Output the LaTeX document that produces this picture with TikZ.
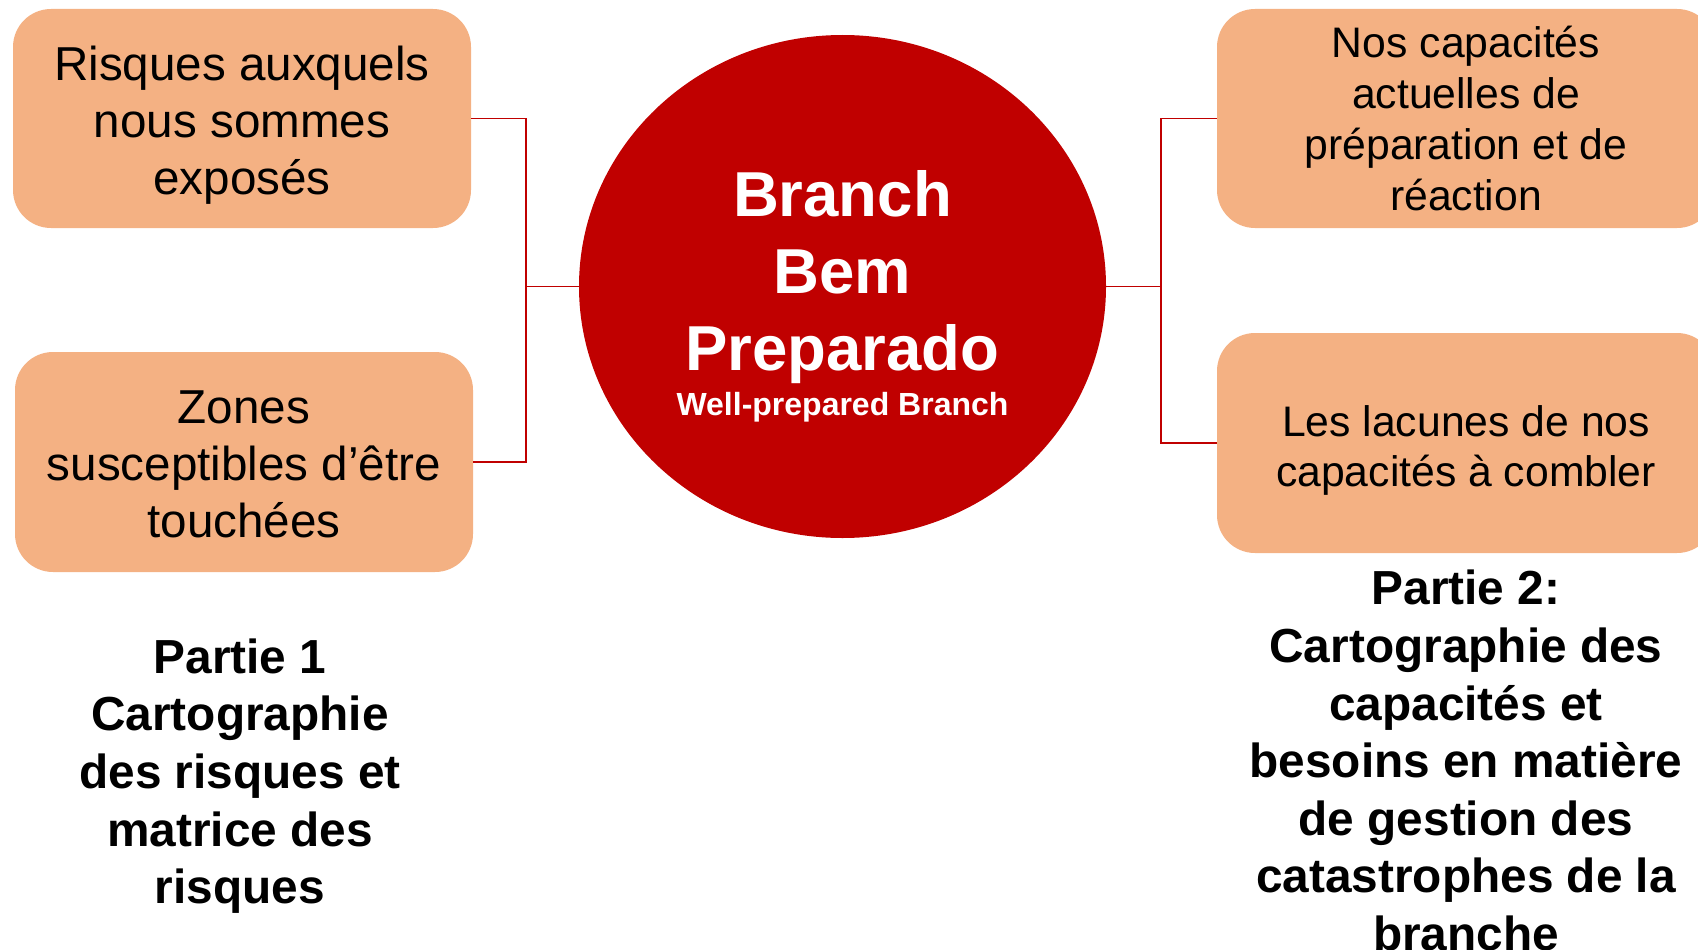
\documentclass[tikz,border=0pt]{standalone}
\usepackage{fontspec}
\setmainfont{Liberation Sans}
\usetikzlibrary{shapes.geometric}
\definecolor{peach}{HTML}{F4B183}
\definecolor{hubred}{HTML}{C00000}
\begin{document}
\begin{tikzpicture}[x=1pt,y=-1pt,
  pbox/.style={fill=peach, draw=none, rounded corners=38pt, inner sep=0pt},
  ltxt/.style={align=center, inner sep=0pt, anchor=north, font=\fontsize{47.6}{57}\selectfont},
  rtxt/.style={align=center, inner sep=0pt, anchor=north, font=\fontsize{42.7}{51}\selectfont},
  btxt/.style={align=center, inner sep=0pt, anchor=north, font=\bfseries\fontsize{47.8}{57.6}\selectfont},
  conn/.style={draw=hubred, line width=1.5pt},
  hub/.style={ellipse, fill=hubred, draw=none, minimum width=527pt, minimum height=503pt, inner sep=0pt}]
\useasboundingbox (0,0) rectangle (1698,950);
\clip (0,0) rectangle (1698,950);
% boxes
\node[pbox, minimum width=458pt, minimum height=219pt] (lt) at (242,118.5) {};
\node[pbox, minimum width=458pt, minimum height=220pt] (lb) at (244,462) {};
\node[pbox, minimum width=498pt, minimum height=219pt] (rt) at (1466,118.5) {};
\node[pbox, minimum width=498pt, minimum height=220pt] (rb) at (1466,443) {};
\node[hub] (c) at (842.5,286.5) {};
% texts
\node[ltxt] (ltt) at (242,46) {Risques auxquels\\nous sommes\\exposés};
\node[ltxt] (lbt) at (244,391) {Zones\\susceptibles d’être\\touchées};
\node[rtxt] (rtt) at (1466,26) {Nos capacités\\actuelles de\\préparation et de\\réaction};
\node[rtxt, font=\fontsize{42.7}{50}\selectfont] (rbt) at (1466,405) {Les lacunes de nos\\capacités à combler};
\node[align=center, inner sep=0pt, anchor=north, text=white, font=\bfseries\fontsize{63.5}{77}\selectfont] (ct) at (842.5,170.5) {Branch\\Bem\\Preparado};
\node[inner sep=0pt, anchor=base, text=white, font=\bfseries\fontsize{32}{38}\selectfont] (cs) at (842.5,415.5) {Well-prepared Branch};
\node[btxt] (p1) at (240,638.5) {Partie 1\\Cartographie\\des risques et\\matrice des\\risques};
\node[btxt] (p2) at (1466,570) {Partie 2:\\Cartographie des\\capacités et\\besoins en matière\\de gestion des\\catastrophes de la\\branche};
% connectors
\coordinate (jl) at (526,286.5);
\coordinate (jr) at (1161,286.5);
\draw[conn] (lt.east) -| (jl) -- (c.west);
\draw[conn] (lb.east) -| (jl);
\draw[conn] (c.east) -- (jr) |- (rt.west);
\draw[conn] (jr) |- (rb.west);
\end{tikzpicture}
\end{document}
